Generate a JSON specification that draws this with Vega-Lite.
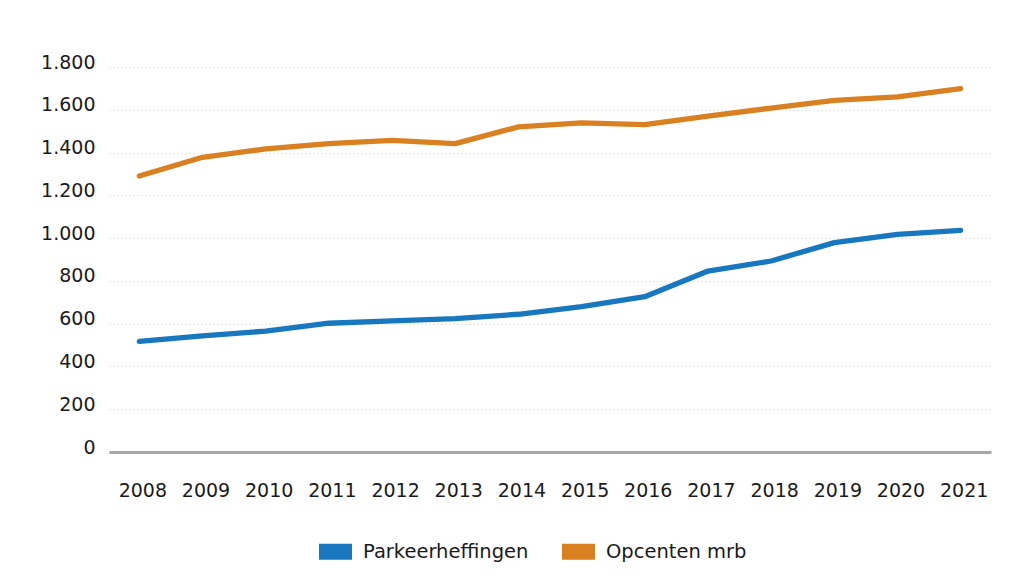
{
  "$schema": "https://vega.github.io/schema/vega-lite/v6.json",
  "width": 882,
  "height": 385,
  "autosize": {"type": "none"},
  "padding": {"left": 109, "top": 67, "right": 25, "bottom": 129},
  "background": "white",
  "config": {
    "locale": {"number": {"decimal": ",", "thousands": ".", "grouping": [3], "currency": ["€ ", ""]}},
    "view": {"stroke": null},
    "font": "DejaVu Sans"
  },
  "data": {
    "values": [
      {"jaar": "2008", "reeks": "Parkeerheffingen", "waarde": 517},
      {"jaar": "2009", "reeks": "Parkeerheffingen", "waarde": 543},
      {"jaar": "2010", "reeks": "Parkeerheffingen", "waarde": 565},
      {"jaar": "2011", "reeks": "Parkeerheffingen", "waarde": 602},
      {"jaar": "2012", "reeks": "Parkeerheffingen", "waarde": 613},
      {"jaar": "2013", "reeks": "Parkeerheffingen", "waarde": 624},
      {"jaar": "2014", "reeks": "Parkeerheffingen", "waarde": 644},
      {"jaar": "2015", "reeks": "Parkeerheffingen", "waarde": 680},
      {"jaar": "2016", "reeks": "Parkeerheffingen", "waarde": 726},
      {"jaar": "2017", "reeks": "Parkeerheffingen", "waarde": 846},
      {"jaar": "2018", "reeks": "Parkeerheffingen", "waarde": 893},
      {"jaar": "2019", "reeks": "Parkeerheffingen", "waarde": 979},
      {"jaar": "2020", "reeks": "Parkeerheffingen", "waarde": 1017},
      {"jaar": "2021", "reeks": "Parkeerheffingen", "waarde": 1036},
      {"jaar": "2008", "reeks": "Opcenten mrb", "waarde": 1290},
      {"jaar": "2009", "reeks": "Opcenten mrb", "waarde": 1378},
      {"jaar": "2010", "reeks": "Opcenten mrb", "waarde": 1417},
      {"jaar": "2011", "reeks": "Opcenten mrb", "waarde": 1442},
      {"jaar": "2012", "reeks": "Opcenten mrb", "waarde": 1457},
      {"jaar": "2013", "reeks": "Opcenten mrb", "waarde": 1442},
      {"jaar": "2014", "reeks": "Opcenten mrb", "waarde": 1520},
      {"jaar": "2015", "reeks": "Opcenten mrb", "waarde": 1539},
      {"jaar": "2016", "reeks": "Opcenten mrb", "waarde": 1531},
      {"jaar": "2017", "reeks": "Opcenten mrb", "waarde": 1570},
      {"jaar": "2018", "reeks": "Opcenten mrb", "waarde": 1608},
      {"jaar": "2019", "reeks": "Opcenten mrb", "waarde": 1644},
      {"jaar": "2020", "reeks": "Opcenten mrb", "waarde": 1660},
      {"jaar": "2021", "reeks": "Opcenten mrb", "waarde": 1699}
    ]
  },
  "mark": {"type": "line", "strokeWidth": 5.3, "strokeCap": "round", "strokeJoin": "round"},
  "encoding": {
    "x": {
      "field": "jaar",
      "type": "ordinal",
      "scale": {"type": "point", "padding": 0.48},
      "axis": {
        "title": null,
        "labelAngle": 0,
        "ticks": false,
        "grid": false,
        "domainColor": "#a6a6a6",
        "domainWidth": 3,
        "labelPadding": 29,
        "labelFontSize": 19,
        "labelColor": "#1a1a1a",
        "labelOffset": 3
      }
    },
    "y": {
      "field": "waarde",
      "type": "quantitative",
      "scale": {"domain": [0, 1800], "nice": false},
      "axis": {
        "title": null,
        "values": [0, 200, 400, 600, 800, 1000, 1200, 1400, 1600, 1800],
        "format": ",d",
        "domain": false,
        "ticks": false,
        "grid": true,
        "gridColor": "#cfcfcf",
        "gridDash": [1, 3],
        "gridWidth": 1,
        "labelPadding": 14,
        "labelOffset": -5,
        "labelFontSize": 19,
        "labelColor": "#1a1a1a"
      }
    },
    "color": {
      "field": "reeks",
      "type": "nominal",
      "scale": {"domain": ["Parkeerheffingen", "Opcenten mrb"], "range": ["#1777bf", "#d98020"]},
      "legend": {
        "title": null,
        "orient": "none",
        "direction": "horizontal",
        "legendX": 202,
        "legendY": 460,
        "padding": 0,
        "symbolType": "M-1,0H1",
        "symbolSize": 1089,
        "symbolStrokeWidth": 16,
        "labelFontSize": 19.5,
        "labelColor": "#1a1a1a",
        "labelOffset": 3,
        "labelLimit": 0,
        "columnPadding": 1
      }
    }
  }
}
